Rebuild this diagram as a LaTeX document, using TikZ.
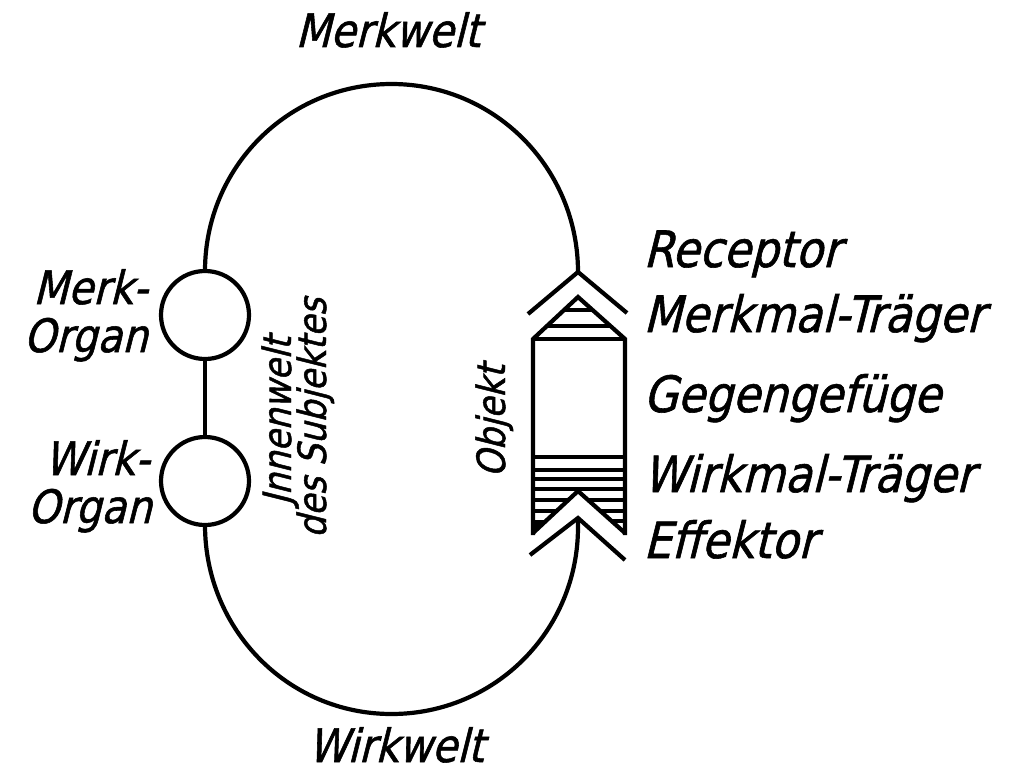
\documentclass[tikz,border=0pt]{standalone}
\usepackage{fontspec}
\newfontfamily\lbl{DejaVu Sans}[FakeSlant=0.25,FakeStretch=0.88,FakeBold=1.2]
\begin{document}
\begin{tikzpicture}[x=0.5pt,y=0.5pt,
  line/.style={line width=2.1pt,line join=miter,line cap=butt},
  hatch/.style={line width=1.6pt},
  organ/.style={circle,draw,line width=2.1pt,minimum size=44pt,inner sep=0pt,outer sep=0pt},
  biglbl/.style={inner sep=0pt,font=\lbl\fontsize{23}{25}\selectfont},
  rlbl/.style={inner sep=0pt,anchor=base west,font=\lbl\fontsize{25}{27}\selectfont},
  llbl/.style={inner sep=0pt,anchor=base east,font=\lbl\fontsize{23}{25}\selectfont},
  vlbl/.style={inner sep=0pt,anchor=base,rotate=90,font=\lbl\fontsize{19.5}{20}\selectfont}]
\useasboundingbox (0,0) rectangle (1010,-781);
% organs
\node[organ] (merk) at (205,-315) {};
\node[organ] (wirk) at (205,-481) {};
% object coordinates
\coordinate (rec) at (578,-272);
\coordinate (eff) at (578,-518);
\coordinate (effb) at (578,-527);
\coordinate (mtop) at (391.5,-84);
\coordinate (wbot) at (391.5,-714);
% circuit
\draw[line] (merk.north) to[out=90,in=180] (mtop) to[out=0,in=90] (rec);
\draw[line] (merk.south) -- (wirk.north);
\draw[line] (wirk.south) to[out=-90,in=180] (wbot) to[out=0,in=-90] (effb) -- (eff);
% receptor chevron
\draw[line] (528,-314) -- (rec) -- (627,-313);
% object body
\draw[line] (533,-535) -- (533,-339) -- (578,-297) -- (625,-339) -- (625,-535);
\draw[line] (533,-339) -- (625,-339);
\draw[hatch] (564,-310) -- (592,-310);
\draw[hatch] (546,-326) -- (610,-326);
\draw[hatch] (533,-457) -- (625,-457);
\draw[hatch] (533,-470) -- (625,-470);
\draw[hatch] (533,-479) -- (625,-479);
\draw[hatch] (533,-489) -- (625,-489);
\draw[line] (533,-533) -- (578,-491) -- (625,-533);
\draw[hatch] (533,-500) -- (568,-500) (588,-500) -- (625,-500);
\draw[hatch] (533,-511) -- (557,-511) (600,-511) -- (625,-511);
\fill (533,-520) -- (546,-520) -- (533,-533) -- cycle;
\draw[hatch] (611,-521) -- (625,-521);
% effector chevron
\draw[line] (530,-555) -- (eff) -- (625,-560);
% labels
\node[biglbl,anchor=base] (tmerkwelt) at (388,-47) {Merkwelt};
\node[biglbl,anchor=base] (twirkwelt) at (396,-762) {Wirkwelt};
\node[llbl] (tmerk1) at (148,-304) {Merk-};
\node[llbl] (tmerk2) at (148,-352) {Organ};
\node[llbl] (twirk1) at (150,-475) {Wirk-};
\node[llbl] (twirk2) at (152,-523) {Organ};
\node[vlbl] (tinnen1) at (291,-421) {Jnnenwelt};
\node[vlbl] (tinnen2) at (326,-418) {des Subjektes};
\node[vlbl] (tobj) at (505,-421) {Objekt};
\node[rlbl] (trec) at (643,-267) {Receptor};
\node[rlbl] (tmmt) at (643,-332) {Merkmal-Träger};
\node[rlbl] (tgeg) at (643,-412) {Gegengefüge};
\node[rlbl] (twmt) at (643,-492) {Wirkmal-Träger};
\node[rlbl] (teff) at (643,-558) {Effektor};
\end{tikzpicture}
\end{document}
